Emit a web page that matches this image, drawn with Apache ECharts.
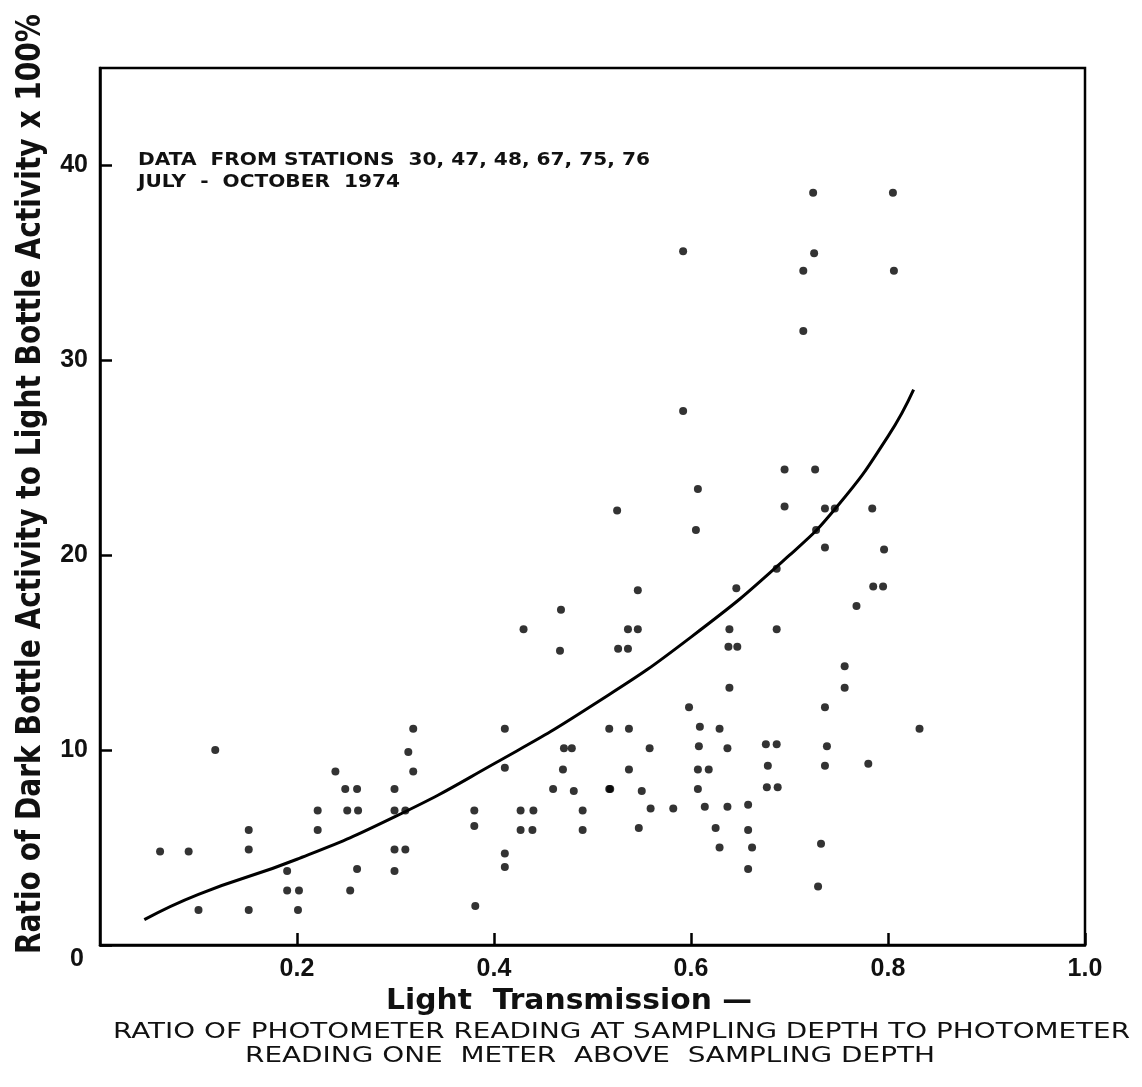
<!DOCTYPE html>
<html>
<head>
<meta charset="utf-8">
<script src="https://cdn.jsdelivr.net/npm/echarts@6/dist/echarts.min.js"></script>
<style>
  html, body { margin: 0; padding: 0; background: #fff; }
  #chart { width: 1142px; height: 1087px; }
</style>
</head>
<body>
<div id="chart"></div>
<script>
// light transmission (x) of each sample
var pointX = [
    0.061, 0.090, 0.117, 0.100, 0.151, 0.151, 0.151, 0.190, 0.190, 0.202, 0.201,
    0.221, 0.221, 0.239, 0.249, 0.261, 0.251, 0.262, 0.261, 0.254,
    0.299, 0.299, 0.310, 0.299, 0.310, 0.299, 0.313, 0.318, 0.318,
    0.380, 0.380, 0.381, 0.411, 0.411, 0.411, 0.411, 0.427, 0.440, 0.427, 0.439,
    0.430, 0.468, 0.467, 0.471, 0.479, 0.470, 0.460, 0.481, 0.490, 0.490,
    0.517, 0.517, 0.525, 0.526, 0.536, 0.536, 0.546, 0.546, 0.537, 0.537, 0.518,
    0.550, 0.547, 0.558, 0.559, 0.582, 0.592, 0.592, 0.598,
    0.605, 0.607, 0.609, 0.608, 0.607, 0.618, 0.607, 0.614, 0.625, 0.629, 0.629,
    0.637, 0.637, 0.638, 0.639, 0.639, 0.646, 0.647, 0.658, 0.658, 0.662, 0.658,
    0.676, 0.687, 0.678, 0.677, 0.688, 0.687, 0.687, 0.695, 0.695,
    0.714, 0.714, 0.724, 0.725, 0.726, 0.727, 0.736, 0.746, 0.736, 0.736, 0.738,
    0.736, 0.732, 0.729, 0.756, 0.756, 0.768, 0.784, 0.785, 0.795, 0.796, 0.780,
    0.805, 0.806, 0.832
];
// dark/light bottle activity ratio x 100% (y) of each sample
var pointY = [
    4.8, 4.8, 10.0, 1.8, 5.9, 4.9, 1.8, 3.8, 2.8, 2.8, 1.8,
    6.9, 5.9, 8.9, 8.0, 8.0, 6.9, 6.9, 3.9, 2.8,
    8.0, 6.9, 6.9, 4.9, 4.9, 3.8, 9.9, 11.1, 8.9,
    6.9, 6.1, 2.0, 11.1, 9.1, 4.7, 4.0, 6.9, 6.9, 5.9, 5.9,
    16.2, 17.2, 15.1, 10.1, 10.1, 9.0, 8.0, 7.9, 6.9, 5.9,
    11.1, 8.0, 22.3, 15.2, 16.2, 15.2, 16.2, 18.2, 11.1, 9.0, 8.0,
    7.9, 6.0, 10.1, 7.0, 7.0, 35.6, 27.4, 12.2,
    21.3, 23.4, 11.2, 10.2, 9.0, 9.0, 8.0, 7.1, 6.0, 5.0, 11.1,
    10.1, 7.1, 15.3, 16.2, 13.2, 18.3, 15.3, 7.2, 5.9, 5.0, 3.9,
    10.3, 10.3, 9.2, 8.1, 8.1, 16.2, 19.3, 22.5, 24.4,
    34.6, 31.5, 38.6, 35.5, 24.4, 21.3, 22.4, 22.4, 20.4, 12.2, 10.2,
    9.2, 5.2, 3.0, 14.3, 13.2, 17.4, 22.4, 18.4, 18.4, 20.3, 9.3,
    38.6, 34.6, 11.1
];
// fitted curve as drawn on the figure
var curveX = [0.045, 0.1, 0.2, 0.3, 0.4, 0.5, 0.6, 0.7, 0.75, 0.8, 0.826];
var curveY = [1.3, 2.6, 4.4, 6.6, 9.3, 12.3, 15.8, 20.0, 22.6, 26.1, 28.5];
var xTicks = [0.2, 0.4, 0.6, 0.8, 1.0];
var yTicks = [0, 10, 20, 30, 40];

var yName = 'Ratio of Dark Bottle Activity to Light Bottle Activity x 100%';
var xName = 'Light  Transmission \u2014';
var subLine1 = 'RATIO OF PHOTOMETER READING AT SAMPLING DEPTH TO PHOTOMETER';
var subLine2 = 'READING ONE  METER  ABOVE  SAMPLING DEPTH';
var noteLine1 = 'DATA  FROM STATIONS  30, 47, 48, 67, 75, 76';
var noteLine2 = 'JULY  -  OCTOBER  1974';

var scatterData = pointX.map(function (x, i) { return [x, pointY[i]]; });
var curveData = curveX.map(function (x, i) { return [x, curveY[i]]; });

// 按目标宽度拉伸文字（原图字体较宽）
var measureCtx = document.createElement('canvas').getContext('2d');
function fitScale(text, font, width) {
    measureCtx.font = font;
    return width / measureCtx.measureText(text).width;
}

var myChart = echarts.init(document.getElementById('chart'));
var option = {
    backgroundColor: '#fff',
    animation: false,
    grid: {
        left: 100, right: 57, top: 68, bottom: 142,
        show: true, borderColor: '#000', borderWidth: 2.5
    },
    xAxis: {
        type: 'value',
        min: 0, max: 1.0, interval: 0.2,
        axisLine: { lineStyle: { color: '#000', width: 2.5 } },
        axisTick: { inside: true, length: 12, lineStyle: { color: '#000', width: 2.5 } },
        splitLine: { show: false },
        axisLabel: {
            showMinLabel: false,
            margin: 12,
            fontFamily: 'Liberation Sans', fontWeight: 'bold', fontSize: 25, color: '#111',
            formatter: function (v) { return xTicks.indexOf(Math.round(v * 10) / 10) >= 0 ? v.toFixed(1) : ''; }
        }
    },
    yAxis: {
        type: 'value',
        min: 0, max: 45, interval: 10,
        axisLine: { lineStyle: { color: '#000', width: 2.5 } },
        axisTick: { inside: true, length: 12, lineStyle: { color: '#000', width: 2.5 } },
        splitLine: { show: false },
        axisLabel: {
            showMaxLabel: false,
            margin: 12,
            fontFamily: 'Liberation Sans', fontWeight: 'bold', fontSize: 25, color: '#111',
            formatter: function (v) {
                if (v === 0) return '{z|0}';
                return yTicks.indexOf(v) >= 0 ? String(v) : '';
            },
            rich: {
                z: { fontFamily: 'Liberation Sans', fontWeight: 'bold', fontSize: 25, color: '#111', padding: [28, 4, 0, 0] }
            }
        }
    },
    graphic: [
        {
            type: 'text', x: 31, y: 484, rotation: Math.PI / 2,
            scaleX: fitScale(yName, 'bold 34px "DejaVu Sans Condensed"', 940),
            style: {
                text: yName, align: 'center', verticalAlign: 'middle',
                fontFamily: 'DejaVu Sans Condensed', fontWeight: 'bold', fontSize: 34, fill: '#111'
            }
        },
        {
            type: 'text', x: 386, y: 1016,
            scaleX: fitScale(xName, 'bold 29px "DejaVu Sans"', 366),
            style: {
                text: xName, align: 'left', verticalAlign: 'bottom',
                fontFamily: 'DejaVu Sans', fontWeight: 'bold', fontSize: 29, fill: '#111'
            }
        },
        {
            type: 'text', x: 113, y: 1043,
            scaleX: fitScale(subLine1, '22px "DejaVu Sans"', 1017),
            style: {
                text: subLine1, align: 'left', verticalAlign: 'bottom',
                fontFamily: 'DejaVu Sans', fontSize: 22, fill: '#111'
            }
        },
        {
            type: 'text', x: 245, y: 1067,
            scaleX: fitScale(subLine2, '22px "DejaVu Sans"', 690),
            style: {
                text: subLine2, align: 'left', verticalAlign: 'bottom',
                fontFamily: 'DejaVu Sans', fontSize: 22, fill: '#111'
            }
        },
        {
            type: 'text', x: 138, y: 161,
            scaleX: fitScale(noteLine1, 'bold 17px "DejaVu Sans"', 512),
            style: {
                text: noteLine1, align: 'left', verticalAlign: 'middle',
                fontFamily: 'DejaVu Sans', fontWeight: 'bold', fontSize: 17, fill: '#111'
            }
        },
        {
            type: 'text', x: 138, y: 183,
            scaleX: fitScale(noteLine1, 'bold 17px "DejaVu Sans"', 512),
            style: {
                text: noteLine2, align: 'left', verticalAlign: 'middle',
                fontFamily: 'DejaVu Sans', fontWeight: 'bold', fontSize: 17, fill: '#111'
            }
        }
    ],
    series: [
        {
            name: 'curve',
            type: 'line',
            data: curveData,
            smooth: true,
            showSymbol: false,
            lineStyle: { color: '#000', width: 3 }
        },
        {
            name: 'samples',
            type: 'scatter',
            data: scatterData,
            symbolSize: 8,
            itemStyle: { color: '#000' }
        }
    ]
};
myChart.setOption(option);
window.addEventListener('resize', function () {
    myChart.resize();
});
</script>
</body>
</html>
